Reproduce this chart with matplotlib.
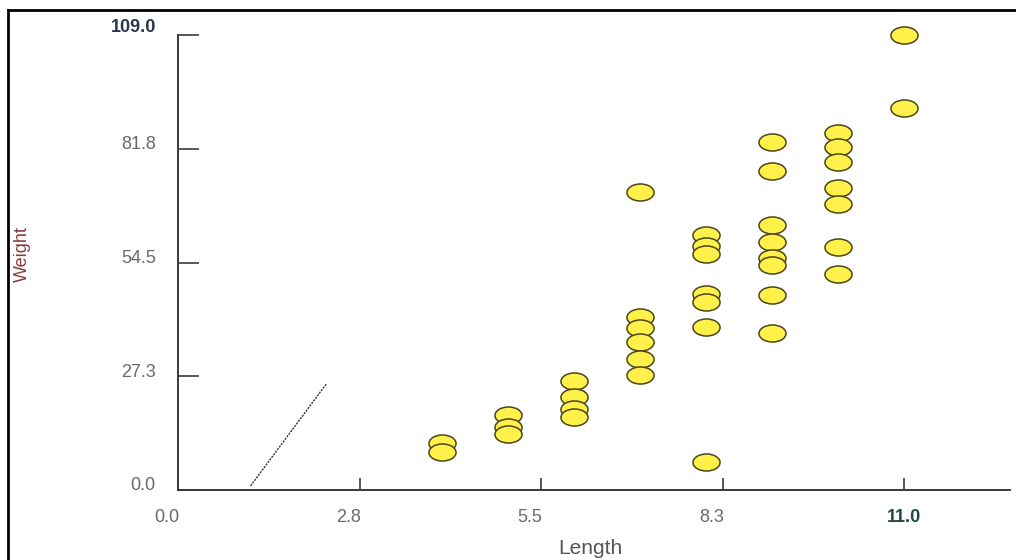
import matplotlib
matplotlib.use("Agg")
import matplotlib.pyplot as plt
from matplotlib.path import Path
from matplotlib.transforms import Affine2D, ScaledTranslation
from matplotlib.lines import Line2D

# values
length = [4, 4,
          5, 5, 5,
          6, 6, 6, 6,
          7, 7, 7, 7, 7, 7,
          8, 8, 8, 8, 8, 8, 8,
          9, 9, 9, 9, 9, 9, 9, 9,
          10, 10, 10, 10, 10, 10, 10,
          11, 11]
weight = [11.2, 9.2,
          18.0, 15.0, 13.5,
          26.2, 22.3, 19.4, 17.5,
          71.4, 41.5, 38.8, 35.5, 31.5, 27.5,
          61.0, 58.5, 56.5, 47.0, 45.0, 39.0, 6.7,
          83.3, 76.5, 63.5, 59.3, 55.5, 54.0, 46.8, 37.5,
          85.5, 82.2, 78.6, 72.4, 68.5, 58.2, 51.7,
          109.0, 91.5]

line_x = [1.1, 2.25]
line_y = [1.0, 25.5]

xticks = [0, 2.75, 5.5, 8.25, 11]
xlabels = ["0.0", "2.8", "5.5", "8.3", "11.0"]
yticks = [0, 27.25, 54.5, 81.75, 109]
ylabels = ["0.0", "27.3", "54.5", "81.8", "109.0"]

plt.rcParams["font.family"] = ["Liberation Sans", "DejaVu Sans"]

fig = plt.figure(figsize=(10.16, 5.6), dpi=100)
ax = fig.add_axes([178 / 1016, 70 / 560, 832 / 1016, 455 / 560])

# flat ellipse marker like the original
oval = Path.unit_circle().transformed(Affine2D().scale(1.0, 0.63))
ax.plot(length, weight, linestyle="none", marker=oval, markersize=19.5,
        markerfacecolor="#fff04a", markeredgecolor="#4a4618",
        markeredgewidth=1.1, clip_on=False, zorder=3)

ax.plot(line_x, line_y, color="#333333", linewidth=1.0,
        linestyle=(0, (1.5, 0.8)))

ax.set_xlim(0, 12.6)
ax.set_ylim(0, 109)
for s in ["top", "right"]:
    ax.spines[s].set_visible(False)
for s in ["left", "bottom"]:
    ax.spines[s].set_color("#3a3a3a")
    ax.spines[s].set_linewidth(1.4)

ax.set_xticks(xticks)
ax.set_xticklabels(xlabels)
ax.set_yticks(yticks)
ax.set_yticklabels(ylabels)
ax.tick_params(axis="y", direction="in", length=15, width=1.2,
               color="#3a3a3a", pad=16, labelsize=13, labelcolor="#6a6a6a")
ax.tick_params(axis="x", direction="in", length=9, width=1.2,
               color="#3a3a3a", pad=14, labelsize=13, labelcolor="#6a6a6a")

for i, lab in enumerate(ax.get_yticklabels()):
    up = 10 if i == len(ylabels) - 1 else 6
    lab.set_transform(lab.get_transform() + ScaledTranslation(0, up / 100, fig.dpi_scale_trans))
for i, lab in enumerate(ax.get_xticklabels()):
    left = 0 if i == len(xlabels) - 1 else 11
    lab.set_transform(lab.get_transform() + ScaledTranslation(-left / 100, 0, fig.dpi_scale_trans))

ax.get_yticklabels()[-1].set_color("#2b3550")
ax.get_yticklabels()[-1].set_fontweight("bold")
ax.get_xticklabels()[-1].set_color("#1f4848")
ax.get_xticklabels()[-1].set_fontweight("bold")

fig.text(22 / 1016, 1 - 254 / 560, "Weight", rotation=90, ha="center", va="center",
         fontsize=13, color="#8a3b3b")
fig.text(590 / 1016, 1 - 548 / 560, "Length", ha="center", va="center",
         fontsize=15, color="#555555")

# frame of the screenshot (left and top edges)
fig.add_artist(Line2D([8 / 1016, 8 / 1016], [0, 1 - 10 / 560], color="black", linewidth=2))
fig.add_artist(Line2D([8 / 1016, 1], [1 - 10 / 560, 1 - 10 / 560], color="black", linewidth=2))

fig.savefig("out.png", dpi=100)
